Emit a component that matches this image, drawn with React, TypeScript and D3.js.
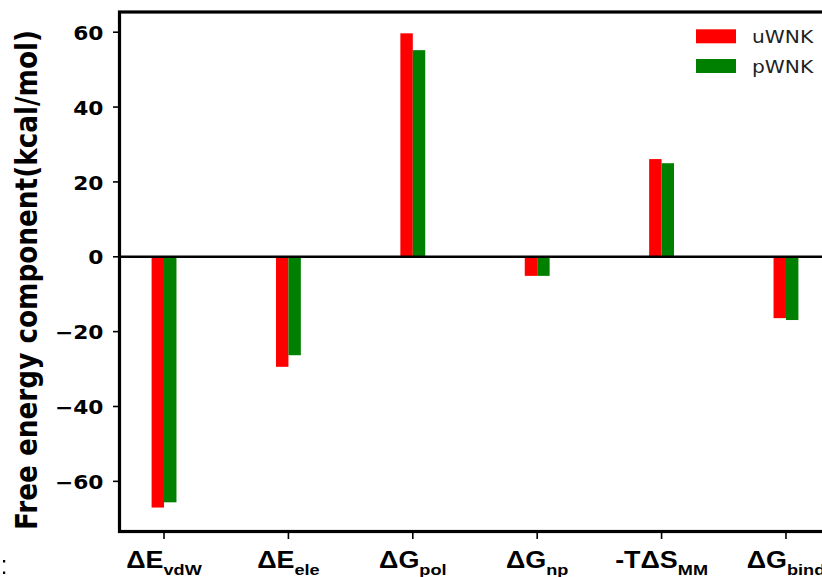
import React from 'react';
import * as d3 from 'd3';

const labelMain = ['ΔE', 'ΔE', 'ΔG', 'ΔG', '-TΔS', 'ΔG'];
const labelSub = ['vdW', 'ele', 'pol', 'np', 'MM', 'bind'];
const uWNK = [-67.0, -29.4, 59.7, -5.1, 26.1, -16.4];
const pWNK = [-65.6, -26.3, 55.2, -5.1, 25.0, -16.9];
const yTicks = [-60, -40, -20, 0, 20, 40, 60];
const seriesNames = ['uWNK', 'pWNK'];
const seriesColors = ['#ff0000', '#008000'];

const W = 822;
const H = 577;
const SX = 1.17;
const LEFT = 119.5;
const RIGHT = 830.5;
const TOP = 12;
const BOTTOM = 531.5;
const BAR_W = 0.1;

export default function App() {
  const x = d3.scaleLinear().domain([-0.358, 5.358]).range([LEFT, RIGHT]);
  const y = d3.scaleLinear().domain([-73.4, 65.4]).range([BOTTOM, TOP]);
  const series = [uWNK, pWNK];
  const bw = x(BAR_W) - x(0);

  return (
    <svg
      width={W}
      height={H}
      style={{ position: 'absolute', left: 0, top: 0, background: '#fff' }}
    >
      <rect x={0} y={0} width={W} height={H} fill="#fff" />
      {/* bars */}
      {series.map((vals, s) =>
        vals.map((v, i) => {
          const cx = x(i) + (s === 0 ? -bw : 0);
          const y0 = y(0);
          const yv = y(v);
          return (
            <rect
              key={`${s}-${i}`}
              x={cx}
              y={Math.min(y0, yv)}
              width={bw}
              height={Math.abs(yv - y0)}
              fill={seriesColors[s]}
            />
          );
        })
      )}
      {/* zero line */}
      <line x1={LEFT} x2={RIGHT} y1={y(0)} y2={y(0)} stroke="#000" strokeWidth={2.6} />
      {/* spines */}
      <rect
        x={LEFT}
        y={TOP}
        width={RIGHT - LEFT}
        height={BOTTOM - TOP}
        fill="none"
        stroke="#000"
        strokeWidth={3.2}
      />
      {/* y ticks */}
      {yTicks.map((t) => (
        <g key={t}>
          <line x1={LEFT - 6.5} x2={LEFT} y1={y(t)} y2={y(t)} stroke="#000" strokeWidth={1.6} />
          <text
            transform={`translate(103.5, ${y(t) + 7.6}) scale(${SX},1)`}
            textAnchor="end"
            fontFamily="DejaVu Sans"
            fontWeight="bold"
            fontSize={18.6}
            fill="#000"
          >
            {t < 0 ? `\u2212${Math.abs(t)}` : `${t}`}
          </text>
        </g>
      ))}
      {/* x ticks */}
      {labelMain.map((m, i) => (
        <g key={i}>
          <line x1={x(i)} x2={x(i)} y1={BOTTOM} y2={BOTTOM + 7.5} stroke="#000" strokeWidth={1.6} />
          <text
            transform={`translate(${x(i)}, 567.5) scale(${SX},1)`}
            textAnchor="middle"
            fontFamily="Liberation Sans"
            fontWeight="bold"
            fontSize={23}
            fill="#000"
          >
            {m}
            <tspan dy={7.5} fontSize={15.5}>
              {labelSub[i]}
            </tspan>
          </text>
        </g>
      ))}
      {/* y label */}
      <text
        transform={`translate(37.4, 280) scale(${SX},1) rotate(-90)`}
        textAnchor="middle"
        fontFamily="DejaVu Sans"
        fontWeight="bold"
        fontSize={26.3}
        fill="#000"
      >
        Free energy component(kcal/mol)
      </text>
      {/* legend */}
      {seriesNames.map((n, s) => (
        <g key={n}>
          <rect x={696} y={29.3 + s * 29.7} width={40} height={14} fill={seriesColors[s]} />
          <text
            transform={`translate(752, ${43.3 + s * 29.7}) scale(${SX},1)`}
            fontFamily="DejaVu Sans"
            fontSize={17.3}
            fill="#222"
          >
            {n}
          </text>
        </g>
      ))}
      {/* stray marks from the source crop */}
      <rect x={3} y={560} width={2.2} height={2.5} fill="#000" />
      <rect x={3} y={571.5} width={2.2} height={2.5} fill="#000" />
    </svg>
  );
}
